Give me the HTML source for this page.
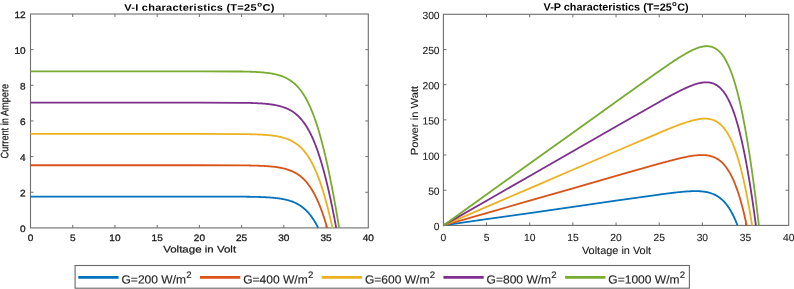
<!DOCTYPE html>
<html><head><meta charset="utf-8"><style>
html,body{margin:0;padding:0;background:#fff;}
body{width:794px;height:289px;overflow:hidden;}
svg{display:block;font-family:"Liberation Sans", sans-serif;text-rendering:geometricPrecision;will-change:transform;}
</style></head><body>
<svg width="794" height="289" viewBox="0 0 794 289">
<rect width="794" height="289" fill="#fff"/>
<rect x="30.5" y="14" width="337.8" height="213.9" fill="none" stroke="#6e6e6e" stroke-width="1.1"/>
<path d="M72.72 227.9v-3M72.72 14v3M114.95 227.9v-3M114.95 14v3M157.18 227.9v-3M157.18 14v3M199.4 227.9v-3M199.4 14v3M241.62 227.9v-3M241.62 14v3M283.85 227.9v-3M283.85 14v3M326.07 227.9v-3M326.07 14v3M30.5 192.25h3M368.3 192.25h-3M30.5 156.6h3M368.3 156.6h-3M30.5 120.95h3M368.3 120.95h-3M30.5 85.3h3M368.3 85.3h-3M30.5 49.65h3M368.3 49.65h-3" stroke="#6e6e6e" stroke-width="1.0" fill="none"/>
<g fill="none" stroke-linejoin="round" stroke-linecap="butt" stroke-width="1.8">
<polyline points="30.5,196.58 72.72,196.58 114.95,196.58 157.18,196.58 199.4,196.58 241.62,196.68 242.27,196.69 242.91,196.69 243.55,196.7 244.2,196.7 244.84,196.71 245.49,196.72 246.13,196.72 246.77,196.73 247.41,196.74 248.06,196.75 248.7,196.76 249.34,196.77 249.99,196.78 250.63,196.79 251.28,196.8 251.92,196.81 252.56,196.82 253.2,196.83 253.85,196.85 254.49,196.86 255.14,196.87 255.78,196.89 256.42,196.9 257.06,196.92 257.71,196.94 258.35,196.96 258.99,196.98 259.64,197 260.28,197.02 260.93,197.04 261.57,197.06 262.21,197.09 262.85,197.11 263.5,197.14 264.14,197.17 264.78,197.2 265.43,197.23 266.07,197.27 266.72,197.3 267.36,197.34 268,197.38 268.64,197.42 269.29,197.46 269.93,197.5 270.57,197.55 271.22,197.6 271.86,197.65 272.5,197.7 273.15,197.76 273.79,197.82 274.43,197.88 275.08,197.95 275.72,198.02 276.37,198.09 277.01,198.17 277.65,198.25 278.29,198.33 278.94,198.42 279.58,198.51 280.22,198.61 280.87,198.71 281.51,198.81 282.16,198.93 282.8,199.04 283.44,199.17 284.08,199.3 284.73,199.43 285.37,199.57 286.01,199.72 286.66,199.88 287.3,200.04 287.94,200.22 288.59,200.4 289.23,200.58 289.87,200.78 290.52,200.99 291.16,201.21 291.8,201.44 292.45,201.67 293.09,201.92 293.73,202.19 294.38,202.46 295.02,202.75 295.66,203.05 296.31,203.36 296.95,203.69 297.6,204.04 298.24,204.4 298.88,204.78 299.52,205.17 300.17,205.58 300.81,206.01 301.45,206.47 302.1,206.94 302.74,207.43 303.38,207.94 304.03,208.48 304.67,209.04 305.31,209.62 305.96,210.23 306.6,210.87 307.24,211.53 307.89,212.22 308.53,212.94 309.17,213.69 309.82,214.47 310.46,215.29 311.1,216.13 311.75,217.01 312.39,217.93 313.03,218.88 313.68,219.86 314.32,220.89 314.96,221.96 315.61,223.06 316.25,224.21 316.89,225.39 317.54,226.63 318.18,227.9" stroke="#0072BD"/>
<polyline points="30.5,165.25 72.72,165.25 114.95,165.25 157.18,165.25 199.4,165.26 241.62,165.38 242.34,165.39 243.06,165.39 243.78,165.4 244.5,165.41 245.22,165.42 245.94,165.43 246.66,165.44 247.38,165.45 248.1,165.46 248.82,165.47 249.54,165.49 250.25,165.5 250.97,165.51 251.69,165.53 252.41,165.54 253.13,165.56 253.85,165.58 254.57,165.6 255.29,165.62 256.01,165.64 256.73,165.66 257.45,165.68 258.16,165.71 258.88,165.73 259.6,165.76 260.32,165.79 261.04,165.82 261.76,165.85 262.48,165.89 263.2,165.92 263.92,165.96 264.64,166 265.36,166.04 266.07,166.09 266.79,166.13 267.51,166.18 268.23,166.24 268.95,166.29 269.67,166.35 270.39,166.41 271.11,166.48 271.83,166.55 272.55,166.62 273.27,166.7 273.99,166.78 274.7,166.87 275.42,166.96 276.14,167.05 276.86,167.16 277.58,167.26 278.3,167.38 279.02,167.49 279.74,167.62 280.46,167.75 281.18,167.89 281.9,168.04 282.62,168.2 283.33,168.36 284.05,168.53 284.77,168.72 285.49,168.91 286.21,169.11 286.93,169.33 287.65,169.55 288.37,169.79 289.09,170.04 289.81,170.3 290.52,170.58 291.24,170.87 291.96,171.18 292.68,171.51 293.4,171.85 294.12,172.21 294.84,172.59 295.56,172.98 296.28,173.4 297,173.84 297.72,174.3 298.44,174.79 299.15,175.3 299.87,175.84 300.59,176.4 301.31,176.99 302.03,177.61 302.75,178.26 303.47,178.94 304.19,179.65 304.91,180.4 305.63,181.19 306.35,182.01 307.07,182.86 307.78,183.76 308.5,184.7 309.22,185.68 309.94,186.71 310.66,187.78 311.38,188.89 312.1,190.06 312.82,191.27 313.54,192.53 314.26,193.85 314.98,195.22 315.69,196.64 316.41,198.13 317.13,199.66 317.85,201.26 318.57,202.92 319.29,204.64 320.01,206.42 320.73,208.27 321.45,210.18 322.17,212.15 322.89,214.2 323.6,216.31 324.32,218.49 325.04,220.73 325.76,223.05 326.48,225.44 327.2,227.9" stroke="#D95319"/>
<polyline points="30.5,133.93 72.72,133.93 114.95,133.93 157.18,133.93 199.4,133.93 241.62,134.08 242.39,134.09 243.15,134.1 243.92,134.11 244.68,134.12 245.44,134.13 246.21,134.15 246.97,134.16 247.73,134.17 248.5,134.19 249.26,134.21 250.02,134.22 250.79,134.24 251.55,134.26 252.31,134.28 253.08,134.3 253.84,134.32 254.6,134.35 255.37,134.37 256.13,134.4 256.89,134.43 257.66,134.46 258.42,134.49 259.18,134.52 259.95,134.56 260.71,134.6 261.47,134.64 262.24,134.68 263,134.73 263.77,134.78 264.53,134.83 265.29,134.88 266.06,134.94 266.82,135 267.58,135.06 268.35,135.13 269.11,135.21 269.87,135.28 270.64,135.36 271.4,135.45 272.16,135.54 272.93,135.64 273.69,135.74 274.45,135.85 275.22,135.96 275.98,136.08 276.74,136.21 277.51,136.35 278.27,136.49 279.03,136.64 279.8,136.81 280.56,136.98 281.32,137.16 282.09,137.35 282.85,137.55 283.62,137.77 284.38,137.99 285.14,138.23 285.91,138.48 286.67,138.75 287.43,139.03 288.2,139.33 288.96,139.65 289.72,139.98 290.49,140.33 291.25,140.71 292.01,141.1 292.78,141.51 293.54,141.95 294.3,142.41 295.07,142.9 295.83,143.41 296.59,143.95 297.36,144.52 298.12,145.11 298.88,145.74 299.65,146.41 300.41,147.1 301.17,147.84 301.94,148.61 302.7,149.42 303.47,150.27 304.23,151.16 304.99,152.09 305.76,153.08 306.52,154.1 307.28,155.18 308.05,156.31 308.81,157.49 309.57,158.72 310.34,160.01 311.1,161.36 311.86,162.77 312.63,164.23 313.39,165.76 314.15,167.35 314.92,169.01 315.68,170.74 316.44,172.53 317.21,174.4 317.97,176.33 318.73,178.34 319.5,180.42 320.26,182.58 321.02,184.81 321.79,187.12 322.55,189.5 323.32,191.97 324.08,194.52 324.84,197.14 325.61,199.85 326.37,202.64 327.13,205.51 327.9,208.46 328.66,211.49 329.42,214.61 330.19,217.81 330.95,221.09 331.71,224.45 332.48,227.9" stroke="#EDB120"/>
<polyline points="30.5,102.6 72.72,102.6 114.95,102.6 157.18,102.6 199.4,102.61 241.62,102.79 242.42,102.8 243.22,102.81 244.01,102.83 244.8,102.84 245.6,102.86 246.39,102.87 247.19,102.89 247.98,102.91 248.78,102.93 249.57,102.95 250.37,102.97 251.16,102.99 251.96,103.02 252.75,103.04 253.55,103.07 254.34,103.1 255.14,103.13 255.93,103.17 256.73,103.2 257.52,103.24 258.32,103.28 259.11,103.32 259.91,103.37 260.7,103.42 261.5,103.47 262.29,103.52 263.09,103.58 263.88,103.64 264.68,103.71 265.47,103.78 266.27,103.85 267.06,103.93 267.86,104.01 268.65,104.1 269.45,104.19 270.24,104.29 271.04,104.4 271.83,104.51 272.63,104.63 273.42,104.75 274.22,104.89 275.01,105.03 275.81,105.18 276.6,105.34 277.4,105.51 278.19,105.69 278.99,105.88 279.78,106.08 280.58,106.29 281.37,106.52 282.17,106.76 282.96,107.02 283.76,107.29 284.55,107.57 285.35,107.88 286.14,108.2 286.93,108.54 287.73,108.9 288.53,109.28 289.32,109.68 290.11,110.11 290.91,110.56 291.7,111.04 292.5,111.54 293.29,112.07 294.09,112.63 294.88,113.23 295.68,113.85 296.47,114.51 297.27,115.21 298.06,115.94 298.86,116.72 299.65,117.53 300.45,118.39 301.24,119.29 302.04,120.23 302.83,121.23 303.63,122.28 304.42,123.37 305.22,124.53 306.01,125.73 306.81,127 307.6,128.32 308.4,129.71 309.19,131.16 309.99,132.68 310.78,134.26 311.58,135.91 312.37,137.64 313.17,139.43 313.96,141.3 314.76,143.25 315.55,145.27 316.35,147.37 317.14,149.55 317.94,151.82 318.73,154.17 319.53,156.6 320.32,159.11 321.12,161.71 321.91,164.4 322.71,167.17 323.5,170.04 324.3,172.99 325.09,176.03 325.89,179.16 326.68,182.38 327.48,185.69 328.27,189.08 329.07,192.57 329.86,196.14 330.66,199.81 331.45,203.56 332.25,207.4 333.04,211.33 333.84,215.34 334.63,219.44 335.43,223.63 336.22,227.9" stroke="#7E2F8E"/>
<polyline points="30.5,71.28 72.72,71.28 114.95,71.28 157.18,71.28 199.4,71.28 241.62,71.51 242.44,71.52 243.26,71.54 244.08,71.55 244.9,71.57 245.72,71.59 246.54,71.61 247.36,71.63 248.18,71.66 249,71.68 249.82,71.71 250.64,71.73 251.46,71.76 252.28,71.8 253.09,71.83 253.92,71.86 254.73,71.9 255.55,71.94 256.37,71.99 257.19,72.03 258.01,72.08 258.83,72.13 259.65,72.19 260.47,72.25 261.29,72.31 262.11,72.38 262.93,72.45 263.75,72.52 264.57,72.6 265.39,72.69 266.2,72.78 267.02,72.88 267.84,72.98 268.66,73.09 269.48,73.21 270.3,73.33 271.12,73.46 271.94,73.6 272.76,73.75 273.58,73.91 274.4,74.08 275.22,74.26 276.04,74.45 276.86,74.65 277.68,74.87 278.49,75.09 279.31,75.34 280.13,75.59 280.95,75.87 281.77,76.15 282.59,76.46 283.41,76.79 284.23,77.13 285.05,77.5 285.87,77.89 286.69,78.3 287.51,78.74 288.33,79.2 289.15,79.69 289.97,80.21 290.78,80.76 291.6,81.33 292.42,81.95 293.24,82.6 294.06,83.28 294.88,84 295.7,84.77 296.52,85.57 297.34,86.42 298.16,87.32 298.98,88.26 299.8,89.25 300.62,90.3 301.44,91.4 302.25,92.55 303.07,93.77 303.89,95.04 304.71,96.38 305.53,97.78 306.35,99.24 307.17,100.78 307.99,102.39 308.81,104.07 309.63,105.82 310.45,107.65 311.27,109.56 312.09,111.55 312.91,113.62 313.73,115.78 314.54,118.02 315.36,120.34 316.18,122.76 317,125.26 317.82,127.85 318.64,130.54 319.46,133.32 320.28,136.18 321.1,139.15 321.92,142.2 322.74,145.36 323.56,148.6 324.38,151.94 325.2,155.38 326.01,158.91 326.83,162.54 327.65,166.26 328.47,170.07 329.29,173.98 330.11,177.98 330.93,182.07 331.75,186.26 332.57,190.53 333.39,194.9 334.21,199.35 335.03,203.9 335.85,208.53 336.67,213.25 337.49,218.05 338.3,222.93 339.12,227.9" stroke="#77AC30"/>
</g>
<rect x="443.4" y="14.3" width="345.3" height="211.1" fill="none" stroke="#6e6e6e" stroke-width="1.1"/>
<path d="M486.56 225.4v-3M486.56 14.3v3M529.73 225.4v-3M529.73 14.3v3M572.89 225.4v-3M572.89 14.3v3M616.05 225.4v-3M616.05 14.3v3M659.21 225.4v-3M659.21 14.3v3M702.38 225.4v-3M702.38 14.3v3M745.54 225.4v-3M745.54 14.3v3M443.4 190.22h3M788.7 190.22h-3M443.4 155.03h3M788.7 155.03h-3M443.4 119.85h3M788.7 119.85h-3M443.4 84.67h3M788.7 84.67h-3M443.4 49.48h3M788.7 49.48h-3" stroke="#6e6e6e" stroke-width="1.0" fill="none"/>
<g fill="none" stroke-linejoin="round" stroke-linecap="butt" stroke-width="1.8">
<polyline points="443.4,225.4 486.56,219.22 529.73,213.03 572.89,206.85 616.05,200.67 659.21,194.59 659.87,194.5 660.53,194.41 661.19,194.32 661.84,194.24 662.5,194.15 663.16,194.06 663.82,193.98 664.47,193.89 665.13,193.8 665.79,193.72 666.45,193.63 667.1,193.55 667.76,193.47 668.42,193.38 669.08,193.3 669.73,193.22 670.39,193.14 671.05,193.06 671.71,192.98 672.36,192.9 673.02,192.82 673.68,192.74 674.34,192.67 675,192.59 675.65,192.52 676.31,192.44 676.97,192.37 677.63,192.3 678.28,192.23 678.94,192.16 679.6,192.09 680.26,192.03 680.91,191.96 681.57,191.9 682.23,191.84 682.89,191.78 683.54,191.72 684.2,191.67 684.86,191.61 685.52,191.56 686.17,191.51 686.83,191.46 687.49,191.42 688.15,191.38 688.8,191.34 689.46,191.3 690.12,191.27 690.78,191.24 691.44,191.21 692.09,191.19 692.75,191.17 693.41,191.16 694.07,191.15 694.72,191.14 695.38,191.14 696.04,191.14 696.7,191.15 697.35,191.16 698.01,191.18 698.67,191.2 699.33,191.23 699.98,191.27 700.64,191.32 701.3,191.37 701.96,191.43 702.61,191.49 703.27,191.57 703.93,191.65 704.59,191.74 705.25,191.85 705.9,191.96 706.56,192.08 707.22,192.22 707.88,192.36 708.53,192.52 709.19,192.69 709.85,192.88 710.51,193.07 711.16,193.29 711.82,193.51 712.48,193.76 713.14,194.02 713.79,194.3 714.45,194.6 715.11,194.91 715.77,195.25 716.43,195.61 717.08,195.99 717.74,196.39 718.4,196.82 719.06,197.27 719.71,197.75 720.37,198.25 721.03,198.78 721.69,199.35 722.34,199.94 723,200.57 723.66,201.23 724.32,201.92 724.97,202.65 725.63,203.42 726.29,204.23 726.95,205.07 727.6,205.96 728.26,206.89 728.92,207.87 729.58,208.89 730.23,209.96 730.89,211.09 731.55,212.26 732.21,213.48 732.86,214.76 733.52,216.1 734.18,217.5 734.84,218.95 735.5,220.47 736.15,222.04 736.81,223.69 737.47,225.4" stroke="#0072BD"/>
<polyline points="443.4,225.4 486.56,213.03 529.73,200.67 572.89,188.3 616.05,175.94 659.21,163.7 659.95,163.49 660.68,163.29 661.42,163.09 662.15,162.89 662.89,162.69 663.62,162.49 664.36,162.29 665.09,162.09 665.83,161.89 666.56,161.69 667.3,161.5 668.03,161.3 668.77,161.1 669.5,160.91 670.24,160.72 670.97,160.52 671.71,160.33 672.44,160.14 673.18,159.95 673.91,159.77 674.65,159.58 675.38,159.4 676.12,159.21 676.85,159.03 677.59,158.85 678.32,158.67 679.06,158.5 679.79,158.32 680.53,158.15 681.27,157.98 682,157.82 682.74,157.65 683.47,157.49 684.21,157.33 684.94,157.18 685.68,157.02 686.41,156.88 687.15,156.73 687.88,156.59 688.62,156.45 689.35,156.32 690.09,156.19 690.82,156.07 691.56,155.95 692.29,155.84 693.03,155.73 693.76,155.63 694.5,155.53 695.23,155.45 695.97,155.36 696.7,155.29 697.44,155.23 698.17,155.17 698.91,155.12 699.64,155.08 700.38,155.06 701.11,155.04 701.85,155.03 702.58,155.04 703.32,155.05 704.05,155.08 704.79,155.13 705.52,155.19 706.26,155.26 706.99,155.35 707.73,155.46 708.46,155.59 709.2,155.73 709.93,155.89 710.67,156.08 711.4,156.29 712.14,156.52 712.87,156.77 713.61,157.05 714.34,157.36 715.08,157.69 715.81,158.06 716.55,158.45 717.28,158.88 718.02,159.34 718.75,159.84 719.49,160.38 720.23,160.95 720.96,161.57 721.7,162.22 722.43,162.93 723.17,163.68 723.9,164.47 724.64,165.32 725.37,166.22 726.11,167.18 726.84,168.19 727.58,169.26 728.31,170.39 729.05,171.59 729.78,172.85 730.52,174.18 731.25,175.59 731.99,177.06 732.72,178.61 733.46,180.24 734.19,181.94 734.93,183.73 735.66,185.61 736.4,187.57 737.13,189.62 737.87,191.76 738.6,194 739.34,196.33 740.07,198.77 740.81,201.3 741.54,203.93 742.28,206.67 743.01,209.52 743.75,212.47 744.48,215.53 745.22,218.71 745.95,222 746.69,225.4" stroke="#D95319"/>
<polyline points="443.4,225.4 486.56,206.85 529.73,188.3 572.89,169.75 616.05,151.21 659.21,132.81 659.99,132.48 660.77,132.16 661.55,131.83 662.33,131.51 663.11,131.19 663.89,130.87 664.68,130.55 665.46,130.23 666.24,129.91 667.02,129.59 667.8,129.27 668.58,128.96 669.36,128.64 670.14,128.33 670.92,128.02 671.7,127.7 672.48,127.4 673.26,127.09 674.04,126.78 674.82,126.48 675.6,126.18 676.38,125.88 677.16,125.58 677.94,125.29 678.72,125 679.5,124.71 680.28,124.42 681.06,124.14 681.84,123.86 682.62,123.58 683.41,123.31 684.19,123.04 684.97,122.78 685.75,122.52 686.53,122.26 687.31,122.01 688.09,121.76 688.87,121.53 689.65,121.29 690.43,121.06 691.21,120.84 691.99,120.63 692.77,120.43 693.55,120.23 694.33,120.04 695.11,119.86 695.89,119.69 696.67,119.53 697.45,119.38 698.23,119.24 699.01,119.12 699.79,119.01 700.57,118.91 701.35,118.82 702.14,118.75 702.92,118.7 703.7,118.66 704.48,118.65 705.26,118.65 706.04,118.67 706.82,118.71 707.6,118.78 708.38,118.87 709.16,118.98 709.94,119.12 710.72,119.29 711.5,119.49 712.28,119.72 713.06,119.98 713.84,120.27 714.62,120.6 715.4,120.97 716.18,121.38 716.96,121.83 717.74,122.33 718.52,122.87 719.3,123.46 720.08,124.1 720.86,124.79 721.65,125.54 722.43,126.34 723.21,127.21 723.99,128.13 724.77,129.12 725.55,130.18 726.33,131.31 727.11,132.52 727.89,133.8 728.67,135.16 729.45,136.6 730.23,138.12 731.01,139.73 731.79,141.43 732.57,143.23 733.35,145.12 734.13,147.11 734.91,149.2 735.69,151.39 736.47,153.69 737.25,156.1 738.03,158.62 738.81,161.26 739.59,164.01 740.38,166.88 741.16,169.87 741.94,172.98 742.72,176.22 743.5,179.59 744.28,183.08 745.06,186.7 745.84,190.46 746.62,194.35 747.4,198.37 748.18,202.53 748.96,206.83 749.74,211.26 750.52,215.83 751.3,220.55 752.08,225.4" stroke="#EDB120"/>
<polyline points="443.4,225.4 486.56,200.67 529.73,175.94 572.89,151.2 616.05,126.48 659.21,101.93 660.02,101.47 660.84,101.02 661.65,100.57 662.46,100.12 663.27,99.67 664.09,99.22 664.9,98.78 665.71,98.33 666.53,97.88 667.34,97.44 668.15,97 668.96,96.56 669.78,96.12 670.59,95.68 671.4,95.25 672.21,94.82 673.03,94.39 673.84,93.96 674.65,93.53 675.46,93.11 676.28,92.69 677.09,92.27 677.9,91.86 678.71,91.44 679.53,91.04 680.34,90.63 681.15,90.23 681.96,89.84 682.78,89.45 683.59,89.06 684.4,88.68 685.21,88.31 686.03,87.94 686.84,87.58 687.65,87.22 688.46,86.87 689.28,86.53 690.09,86.2 690.9,85.88 691.71,85.56 692.53,85.26 693.34,84.96 694.15,84.68 694.97,84.4 695.78,84.14 696.59,83.9 697.4,83.66 698.22,83.45 699.03,83.24 699.84,83.06 700.65,82.89 701.47,82.74 702.28,82.61 703.09,82.51 703.9,82.42 704.72,82.36 705.53,82.32 706.34,82.31 707.15,82.33 707.97,82.37 708.78,82.45 709.59,82.56 710.4,82.71 711.22,82.89 712.03,83.11 712.84,83.37 713.65,83.68 714.47,84.03 715.28,84.43 716.09,84.87 716.9,85.37 717.72,85.92 718.53,86.54 719.34,87.21 720.15,87.94 720.97,88.74 721.78,89.61 722.59,90.54 723.41,91.56 724.22,92.65 725.03,93.82 725.84,95.07 726.66,96.42 727.47,97.85 728.28,99.37 729.09,101 729.91,102.71 730.72,104.54 731.53,106.47 732.34,108.5 733.16,110.65 733.97,112.92 734.78,115.3 735.59,117.8 736.41,120.42 737.22,123.17 738.03,126.05 738.84,129.06 739.66,132.2 740.47,135.49 741.28,138.9 742.09,142.45 742.91,146.15 743.72,149.99 744.53,153.97 745.34,158.1 746.16,162.37 746.97,166.8 747.78,171.37 748.59,176.09 749.41,180.96 750.22,185.98 751.03,191.16 751.85,196.49 752.66,201.97 753.47,207.59 754.28,213.38 755.1,219.32 755.91,225.4" stroke="#7E2F8E"/>
<polyline points="443.4,225.4 486.56,194.49 529.73,163.57 572.89,132.66 616.05,101.75 659.21,71.05 660.05,70.47 660.89,69.89 661.73,69.3 662.56,68.72 663.4,68.14 664.24,67.56 665.07,66.99 665.91,66.41 666.75,65.84 667.59,65.27 668.43,64.7 669.26,64.13 670.1,63.57 670.94,63 671.78,62.44 672.61,61.89 673.45,61.33 674.29,60.78 675.12,60.23 675.96,59.69 676.8,59.14 677.64,58.61 678.48,58.07 679.31,57.55 680.15,57.02 680.99,56.5 681.83,55.99 682.66,55.48 683.5,54.98 684.34,54.49 685.18,54 686.01,53.52 686.85,53.05 687.69,52.59 688.53,52.14 689.36,51.69 690.2,51.26 691.04,50.84 691.88,50.43 692.71,50.03 693.55,49.64 694.39,49.27 695.23,48.92 696.06,48.58 696.9,48.26 697.74,47.95 698.57,47.67 699.41,47.41 700.25,47.16 701.09,46.94 701.93,46.75 702.76,46.58 703.6,46.44 704.44,46.33 705.28,46.25 706.11,46.2 706.95,46.18 707.79,46.21 708.63,46.27 709.46,46.37 710.3,46.51 711.14,46.7 711.98,46.94 712.81,47.23 713.65,47.57 714.49,47.96 715.33,48.41 716.16,48.93 717,49.51 717.84,50.15 718.68,50.87 719.51,51.66 720.35,52.52 721.19,53.47 722.03,54.49 722.86,55.61 723.7,56.81 724.54,58.11 725.38,59.5 726.21,61 727.05,62.59 727.89,64.3 728.73,66.11 729.56,68.04 730.4,70.08 731.24,72.25 732.08,74.54 732.91,76.96 733.75,79.5 734.59,82.18 735.43,84.99 736.26,87.94 737.1,91.03 737.94,94.26 738.78,97.64 739.61,101.16 740.45,104.84 741.29,108.66 742.13,112.64 742.96,116.77 743.8,121.06 744.64,125.5 745.48,130.1 746.31,134.86 747.15,139.77 747.99,144.85 748.83,150.08 749.66,155.48 750.5,161.04 751.34,166.76 752.18,172.64 753.01,178.67 753.85,184.87 754.69,191.23 755.53,197.75 756.36,204.43 757.2,211.26 758.04,218.25 758.88,225.4" stroke="#77AC30"/>
</g>
<g font-family="Liberation Sans, sans-serif" fill="#1a1a1a">
<g stroke="#1a1a1a" stroke-width="0.3">
<text transform="translate(30.5 240.9) scale(1.08 1) rotate(0.05)" font-size="9.3" text-anchor="middle">0</text>
<text transform="translate(72.72 240.9) scale(1.08 1) rotate(0.05)" font-size="9.3" text-anchor="middle">5</text>
<text transform="translate(114.95 240.9) scale(1.08 1) rotate(0.05)" font-size="9.3" text-anchor="middle">10</text>
<text transform="translate(157.18 240.9) scale(1.08 1) rotate(0.05)" font-size="9.3" text-anchor="middle">15</text>
<text transform="translate(199.4 240.9) scale(1.08 1) rotate(0.05)" font-size="9.3" text-anchor="middle">20</text>
<text transform="translate(241.62 240.9) scale(1.08 1) rotate(0.05)" font-size="9.3" text-anchor="middle">25</text>
<text transform="translate(283.85 240.9) scale(1.08 1) rotate(0.05)" font-size="9.3" text-anchor="middle">30</text>
<text transform="translate(326.07 240.9) scale(1.08 1) rotate(0.05)" font-size="9.3" text-anchor="middle">35</text>
<text transform="translate(368.3 240.9) scale(1.08 1) rotate(0.05)" font-size="9.3" text-anchor="middle">40</text>
<text transform="translate(25.6 232) scale(1.08 1) rotate(0.05)" font-size="9.3" text-anchor="end">0</text>
<text transform="translate(25.6 196.35) scale(1.08 1) rotate(0.05)" font-size="9.3" text-anchor="end">2</text>
<text transform="translate(25.6 160.7) scale(1.08 1) rotate(0.05)" font-size="9.3" text-anchor="end">4</text>
<text transform="translate(25.6 125.05) scale(1.08 1) rotate(0.05)" font-size="9.3" text-anchor="end">6</text>
<text transform="translate(25.6 89.4) scale(1.08 1) rotate(0.05)" font-size="9.3" text-anchor="end">8</text>
<text transform="translate(25.6 53.75) scale(1.08 1) rotate(0.05)" font-size="9.3" text-anchor="end">10</text>
<text transform="translate(25.6 18.1) scale(1.08 1) rotate(0.05)" font-size="9.3" text-anchor="end">12</text>
</g>
<g stroke="#1a1a1a" stroke-width="0.22">
<text transform="translate(199.64 252.5) scale(1.2 1) rotate(0.05)" font-size="9.6" text-anchor="middle">Voltage in Volt</text>
<text transform="translate(8.3 121.2) rotate(-90) scale(0.86 1) rotate(0.05)" font-size="10.7" text-anchor="middle">Current in Ampere</text>
</g>
<g stroke="#1a1a1a" stroke-width="0.1">
<text transform="translate(443.4 240.9) scale(1 1) rotate(0.05)" font-size="10.3" text-anchor="middle">0</text>
<text transform="translate(486.56 240.9) scale(1 1) rotate(0.05)" font-size="10.3" text-anchor="middle">5</text>
<text transform="translate(529.73 240.9) scale(1 1) rotate(0.05)" font-size="10.3" text-anchor="middle">10</text>
<text transform="translate(572.89 240.9) scale(1 1) rotate(0.05)" font-size="10.3" text-anchor="middle">15</text>
<text transform="translate(616.05 240.9) scale(1 1) rotate(0.05)" font-size="10.3" text-anchor="middle">20</text>
<text transform="translate(659.21 240.9) scale(1 1) rotate(0.05)" font-size="10.3" text-anchor="middle">25</text>
<text transform="translate(702.38 240.9) scale(1 1) rotate(0.05)" font-size="10.3" text-anchor="middle">30</text>
<text transform="translate(745.54 240.9) scale(1 1) rotate(0.05)" font-size="10.3" text-anchor="middle">35</text>
<text transform="translate(788.7 240.9) scale(1 1) rotate(0.05)" font-size="10.3" text-anchor="middle">40</text>
<text transform="translate(439.6 230.05) scale(1 1) rotate(0.05)" font-size="10.3" text-anchor="end">0</text>
<text transform="translate(439.6 194.87) scale(1 1) rotate(0.05)" font-size="10.3" text-anchor="end">50</text>
<text transform="translate(439.6 159.68) scale(1 1) rotate(0.05)" font-size="10.3" text-anchor="end">100</text>
<text transform="translate(439.6 124.5) scale(1 1) rotate(0.05)" font-size="10.3" text-anchor="end">150</text>
<text transform="translate(439.6 89.32) scale(1 1) rotate(0.05)" font-size="10.3" text-anchor="end">200</text>
<text transform="translate(439.6 54.13) scale(1 1) rotate(0.05)" font-size="10.3" text-anchor="end">250</text>
<text transform="translate(439.6 18.95) scale(1 1) rotate(0.05)" font-size="10.3" text-anchor="end">300</text>
<text transform="translate(616.54 254) scale(1.04 1) rotate(0.05)" font-size="10.5" text-anchor="middle">Voltage in Volt</text>
<text transform="translate(418 120.56) rotate(-90) scale(1.09 1) rotate(0.05)" font-size="10.3" text-anchor="middle">Power in Watt</text>
</g>
<text transform="translate(199.54 10.7) scale(1.15 1) rotate(0.05)" font-size="9.6" text-anchor="middle" font-weight="bold" fill="#000" letter-spacing="0.2">V-I characteristics (T=25<tspan font-size="6.91" dx="0.4" dy="-4.32">o</tspan><tspan dx="0.3" dy="4.32">C)</tspan></text>
<text transform="translate(616.06 10.6) scale(1.03 1) rotate(0.05)" font-size="10.5" text-anchor="middle" font-weight="bold" fill="#000">V-P characteristics (T=25<tspan font-size="7.56" dx="0.4" dy="-4.73">o</tspan><tspan dx="0.3" dy="4.73">C)</tspan></text>
</g>
<rect x="75.1" y="265.5" width="614.3" height="22.7" fill="#fff" stroke="#686868" stroke-width="1.1"/>
<line x1="78.3" y1="277.45" x2="118.6" y2="277.45" stroke="#0072BD" stroke-width="2.8"/>
<text transform="translate(121.5 283.4) scale(1.02 1) rotate(0.05)" font-family="Liberation Sans, sans-serif" font-size="11.8" fill="#262626" stroke="#262626" stroke-width="0.15">G=200 W/m<tspan font-size="9.44" dx="0.2" dy="-5.55">2</tspan></text>
<line x1="200" y1="277.45" x2="240.3" y2="277.45" stroke="#D95319" stroke-width="2.8"/>
<text transform="translate(243.2 283.4) scale(1.02 1) rotate(0.05)" font-family="Liberation Sans, sans-serif" font-size="11.8" fill="#262626" stroke="#262626" stroke-width="0.15">G=400 W/m<tspan font-size="9.44" dx="0.2" dy="-5.55">2</tspan></text>
<line x1="321.7" y1="277.45" x2="362" y2="277.45" stroke="#EDB120" stroke-width="2.8"/>
<text transform="translate(364.9 283.4) scale(1.02 1) rotate(0.05)" font-family="Liberation Sans, sans-serif" font-size="11.8" fill="#262626" stroke="#262626" stroke-width="0.15">G=600 W/m<tspan font-size="9.44" dx="0.2" dy="-5.55">2</tspan></text>
<line x1="443.4" y1="277.45" x2="483.7" y2="277.45" stroke="#7E2F8E" stroke-width="2.8"/>
<text transform="translate(486.6 283.4) scale(1.02 1) rotate(0.05)" font-family="Liberation Sans, sans-serif" font-size="11.8" fill="#262626" stroke="#262626" stroke-width="0.15">G=800 W/m<tspan font-size="9.44" dx="0.2" dy="-5.55">2</tspan></text>
<line x1="565.1" y1="277.45" x2="605.4" y2="277.45" stroke="#77AC30" stroke-width="2.8"/>
<text transform="translate(608.3 283.4) scale(1.02 1) rotate(0.05)" font-family="Liberation Sans, sans-serif" font-size="11.8" fill="#262626" stroke="#262626" stroke-width="0.15">G=1000 W/m<tspan font-size="9.44" dx="0.2" dy="-5.55">2</tspan></text>
</svg>
</body></html>
